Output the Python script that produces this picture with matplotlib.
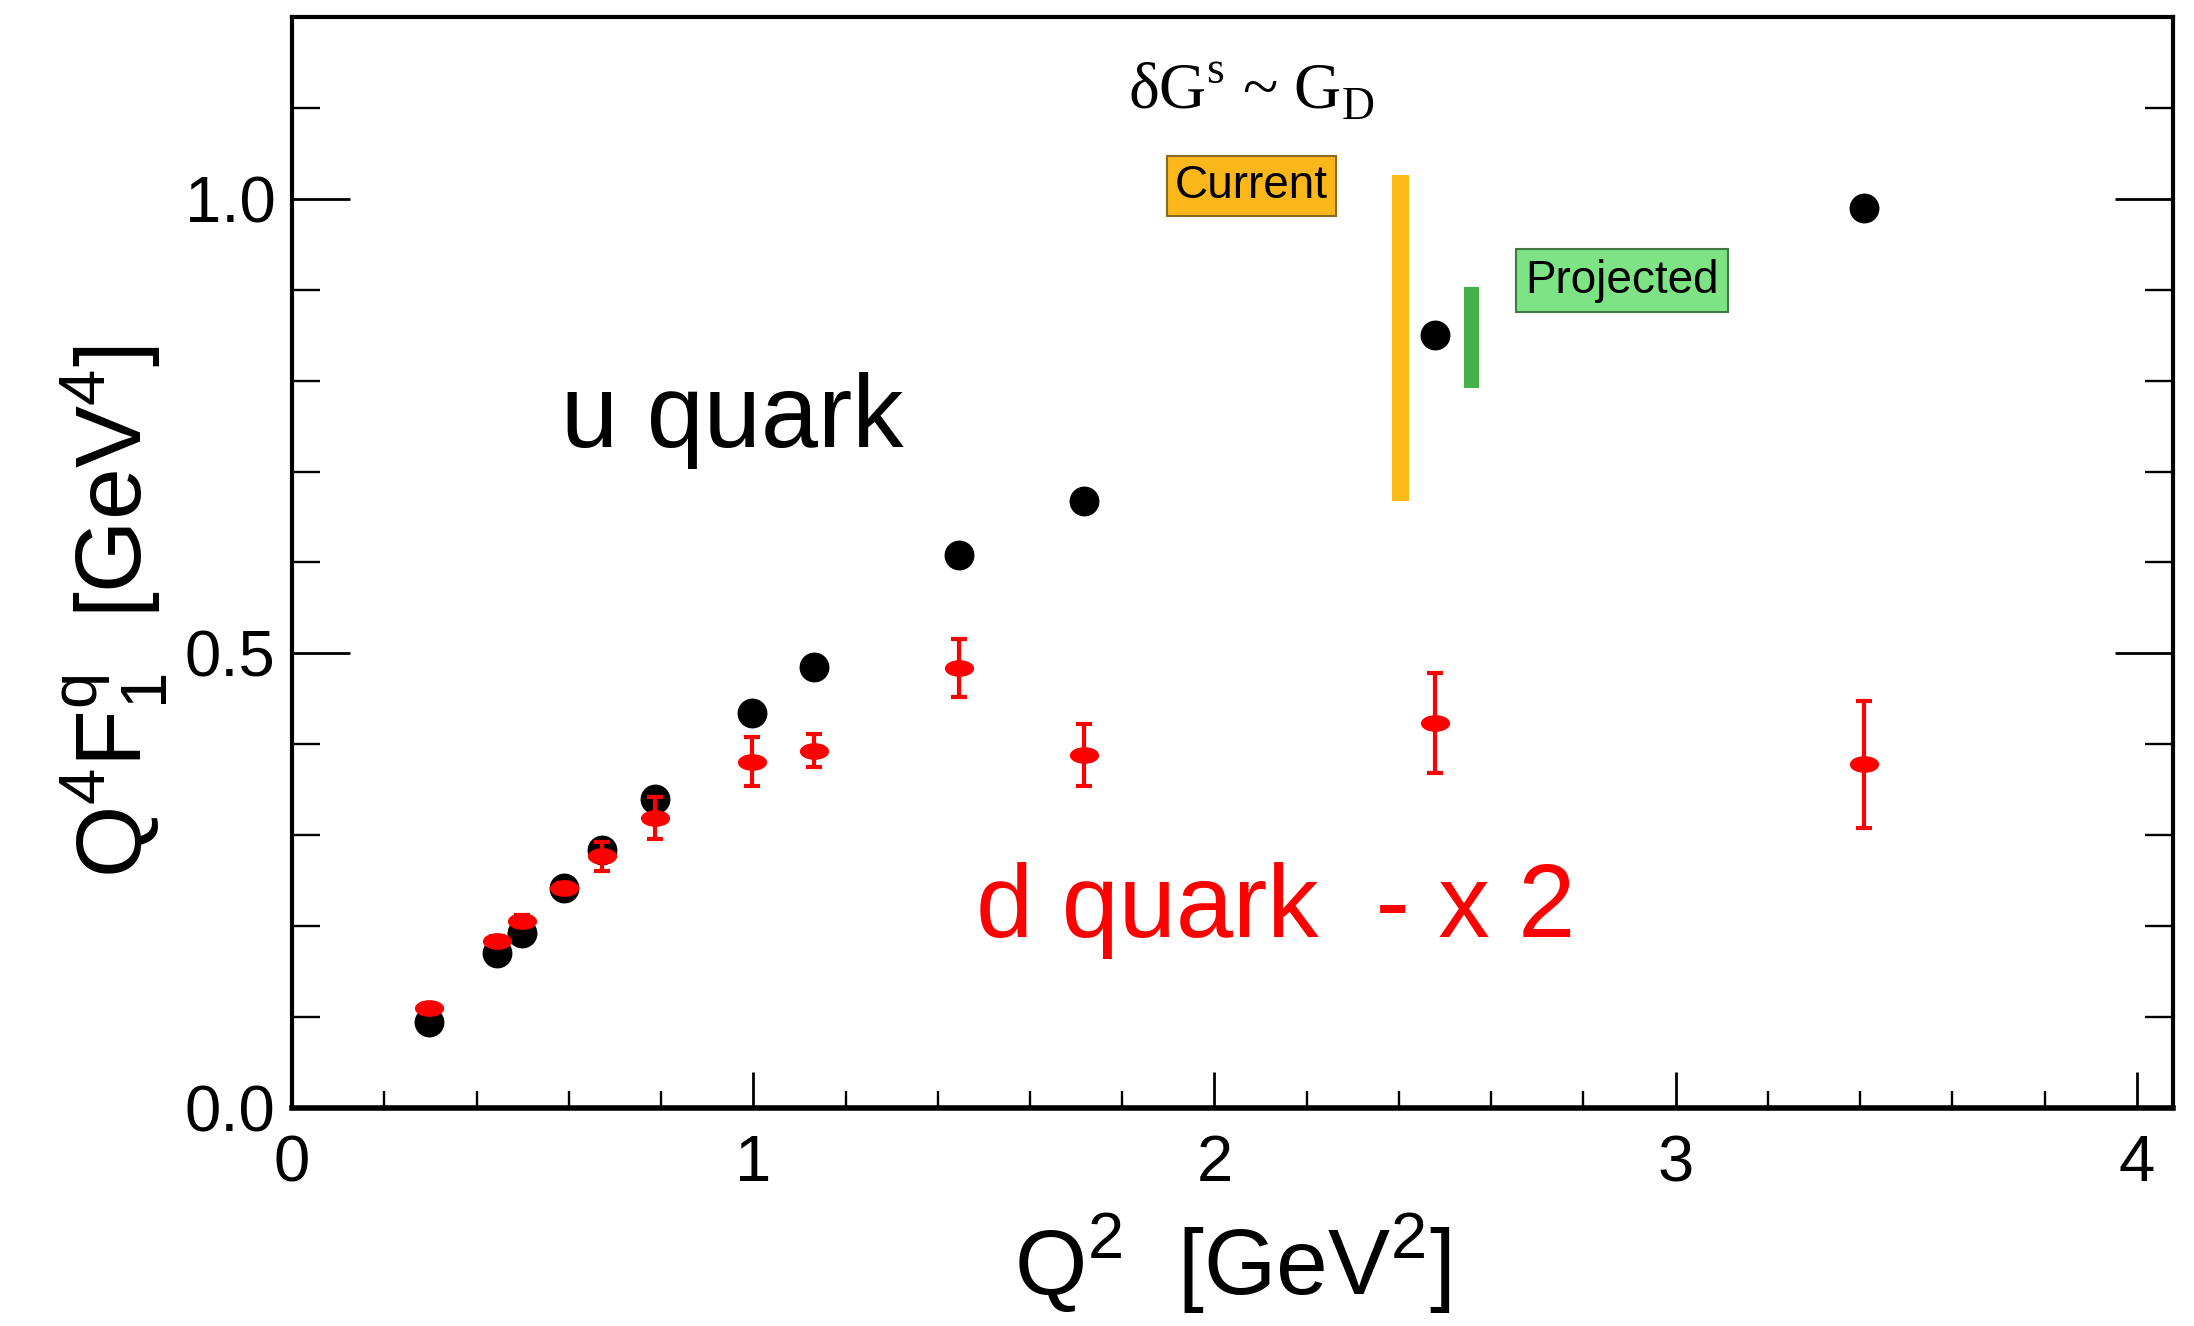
import numpy as np
import matplotlib.pyplot as plt
from matplotlib.path import Path
from matplotlib.transforms import Affine2D
from matplotlib.ticker import MultipleLocator, FormatStrFormatter

plt.rcParams['font.family'] = ['Liberation Sans', 'DejaVu Sans']

# u quark
q2_u = [0.298, 0.444, 0.498, 0.589, 0.671, 0.786, 0.998, 1.132, 1.447, 1.717, 2.478, 3.409]
f_u = [0.095, 0.170, 0.193, 0.242, 0.284, 0.340, 0.434, 0.485, 0.608, 0.668, 0.850, 0.990]

# d quark (x2) with errors
q2_d = [0.298, 0.444, 0.498, 0.589, 0.671, 0.786, 0.998, 1.132, 1.447, 1.717, 2.478, 3.409]
f_d = [0.110, 0.184, 0.206, 0.242, 0.277, 0.319, 0.381, 0.393, 0.484, 0.388, 0.424, 0.378]
err_d = [0.004, 0.005, 0.006, 0.006, 0.016, 0.023, 0.027, 0.018, 0.032, 0.034, 0.055, 0.070]

# uncertainty bands at Q2 ~ 2.5
band_x = [2.403, 2.557]
band_lo = [0.668, 0.792]
band_hi = [1.026, 0.903]
band_colors = ['#FDB918', '#43B049']

fig = plt.figure(figsize=(21.94, 13.26), dpi=100)
ax = fig.add_axes([0.1331, 0.1644, 0.9904 - 0.1331, 0.9872 - 0.1644])

ax.bar(band_x[0], band_hi[0] - band_lo[0], bottom=band_lo[0], width=0.038,
       color=band_colors[0], linewidth=0, zorder=2)
ax.bar(band_x[1], band_hi[1] - band_lo[1], bottom=band_lo[1], width=0.034,
       color=band_colors[1], linewidth=0, zorder=2)

ax.plot(q2_u, f_u, 'o', color='black', markersize=20.5, zorder=3)

ell = Path.unit_circle().transformed(Affine2D().scale(1.0, 0.55))
ax.errorbar(q2_d, f_d, yerr=err_d, fmt='none', ecolor='red', elinewidth=3,
            capsize=5.5, capthick=3, zorder=4)
ax.plot(q2_d, f_d, linestyle='none', marker=ell, color='red', markersize=20, zorder=5)

ax.set_xlim(0, 4.078)
ax.set_ylim(0, 1.2)

ax.xaxis.set_major_locator(MultipleLocator(1))
ax.xaxis.set_minor_locator(MultipleLocator(0.2))
ax.yaxis.set_major_locator(MultipleLocator(0.5))
ax.yaxis.set_minor_locator(MultipleLocator(0.1))
ax.yaxis.set_major_formatter(FormatStrFormatter('%.1f'))

ax.tick_params(axis='x', which='major', direction='in', length=26, width=2,
               labelsize=47, pad=19, top=False)
ax.tick_params(axis='x', which='minor', direction='in', length=12, width=1.7, top=False)
ax.tick_params(axis='y', which='major', direction='in', length=42, width=2,
               labelsize=47, pad=12, right=True)
ax.tick_params(axis='y', which='minor', direction='in', length=20, width=1.7, right=True)

for s in ['left', 'top', 'right']:
    ax.spines[s].set_linewidth(3)
ax.spines['bottom'].set_linewidth(4)

ax.set_xlabel(r'Q$^{\mathregular{2}}$  [GeV$^{\mathregular{2}}$]', fontsize=67)
ax.xaxis.set_label_coords(0.5, -0.095)
ax.set_ylabel(r'Q$^{\mathregular{4}}$F$_{\mathregular{1}}^{\mathregular{q}}$  [GeV$^{\mathregular{4}}$]',
              fontsize=67, va='center')
ax.yaxis.set_label_coords(-0.094, 0.455)

ax.text(0.584, 0.727, 'u quark', fontsize=74, color='black', ha='left', va='baseline')
ax.text(1.484, 0.188, 'd quark  - x 2', fontsize=74, color='red', ha='left', va='baseline')

ax.text(2.080, 1.117, r'δG$^{\mathregular{s}}$ ~ G$_{\mathregular{D}}$', fontsize=47,
        family='Liberation Serif', ha='center', va='center')

ax.text(2.080, 1.014, 'Current', fontsize=33, ha='center', va='center',
        bbox=dict(boxstyle='square,pad=0.18', facecolor='#FBB71A', edgecolor='#8A6A20', linewidth=1.5))
ax.text(2.883, 0.910, 'Projected', fontsize=33, ha='center', va='center',
        bbox=dict(boxstyle='square,pad=0.2', facecolor='#7DE384', edgecolor='#3F7A45', linewidth=1.5))

fig.savefig('out.png', dpi=100)
